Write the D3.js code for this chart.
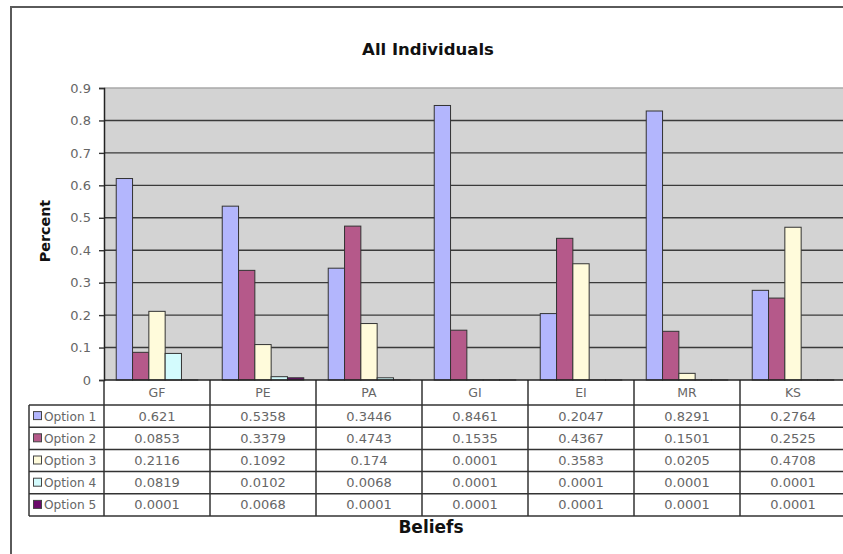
<!DOCTYPE html>
<html>
<head>
<meta charset="utf-8">
<script src="https://cdn.jsdelivr.net/npm/d3@7"></script>
<style>
  html, body { margin: 0; padding: 0; background: #fff; }
  svg { display: block; }
  text { font-family: "DejaVu Sans", Verdana, sans-serif; }
</style>
</head>
<body>
<svg id="chart" width="843" height="554"></svg>
<script>
// Beliefs on the x axis, one bar per option
const categories = ["GF", "PE", "PA", "GI", "EI", "MR", "KS"];
const seriesNames = ["Option 1", "Option 2", "Option 3", "Option 4", "Option 5"];
const option1 = [0.621, 0.5358, 0.3446, 0.8461, 0.2047, 0.8291, 0.2764];
const option2 = [0.0853, 0.3379, 0.4743, 0.1535, 0.4367, 0.1501, 0.2525];
const option3 = [0.2116, 0.1092, 0.174, 0.0001, 0.3583, 0.0205, 0.4708];
const option4 = [0.0819, 0.0102, 0.0068, 0.0001, 0.0001, 0.0001, 0.0001];
const option5 = [0.0001, 0.0068, 0.0001, 0.0001, 0.0001, 0.0001, 0.0001];
const yTicks = [0, 0.1, 0.2, 0.3, 0.4, 0.5, 0.6, 0.7, 0.8, 0.9];
const colors = ["#b3b6fd", "#b5598a", "#fffbdb", "#d3fbfd", "#6b0a6b"];

const seriesValues = [option1, option2, option3, option4, option5];
const svg = d3.select("#chart");

// layout
const plotLeft = 104, step = 106;
const plotRight = plotLeft + step * categories.length;
const plotTop = 88, plotBottom = 380;
const rowH = 22.2;
const headerBottom = 405;
const legendLeft = 29;

const x = d3.scaleBand().domain(categories).range([plotLeft, plotRight]).paddingInner(0).paddingOuter(0);
const barW = step / 6.5;
const xs = d3.scaleBand().domain(seriesNames).range([0.75 * barW, 0.75 * barW + 5 * barW]);
const y = d3.scaleLinear().domain([0, 0.9]).range([plotBottom, plotTop]);

// outer frame
svg.append("path")
  .attr("d", `M11,554 V7 H843`)
  .attr("fill", "none").attr("stroke", "#5a5a5a").attr("stroke-width", 2);

// title
svg.append("text").attr("x", 428).attr("y", 55)
  .attr("text-anchor", "middle").attr("font-size", 16.5).attr("font-weight", "bold")
  .attr("fill", "#111").text("All Individuals");

// plot background
svg.append("rect").attr("x", plotLeft).attr("y", plotTop)
  .attr("width", plotRight - plotLeft).attr("height", plotBottom - plotTop)
  .attr("fill", "#d3d3d3");
svg.append("line").attr("x1", plotLeft).attr("x2", plotRight)
  .attr("y1", plotTop).attr("y2", plotTop).attr("stroke", "#a8a8a8").attr("stroke-width", 1.5);

// gridlines
svg.append("g").selectAll("line").data(yTicks.filter(t => t > 0 && t < 0.9)).join("line")
  .attr("x1", plotLeft).attr("x2", plotRight)
  .attr("y1", d => y(d)).attr("y2", d => y(d))
  .attr("stroke", "#3a3a3a").attr("stroke-width", 1.4);

// y axis
const yAxis = d3.axisLeft(y).tickValues(yTicks).tickSize(5).tickPadding(8)
  .tickFormat(d => d === 0 ? "0" : d3.format(".1f")(d));
const gy = svg.append("g").attr("transform", `translate(${plotLeft},0)`).call(yAxis);
gy.select(".domain").attr("stroke", "#222").attr("stroke-width", 1.5);
gy.selectAll(".tick line").attr("stroke", "#333").attr("stroke-width", 1.4);
gy.selectAll(".tick text").attr("font-size", 13).attr("fill", "#666")
  .attr("font-family", "DejaVu Sans, Verdana, sans-serif");

// bars
const groups = svg.append("g").selectAll("g").data(categories).join("g")
  .attr("transform", d => `translate(${x(d)},0)`);
groups.selectAll("rect")
  .data((c, i) => seriesNames.map((s, k) => ({ s, k, v: seriesValues[k][i] })))
  .join("rect")
  .attr("x", d => xs(d.s))
  .attr("width", xs.bandwidth())
  .attr("y", d => y(d.v))
  .attr("height", d => y(0) - y(d.v))
  .attr("fill", d => colors[d.k])
  .attr("stroke", "#333").attr("stroke-width", 1);

// data table
const table = svg.append("g");
const tableBottom = headerBottom + rowH * seriesNames.length;

// white table background
table.append("rect").attr("x", legendLeft).attr("y", headerBottom)
  .attr("width", plotRight - legendLeft).attr("height", tableBottom - headerBottom).attr("fill", "#fff");

// horizontal rules
const hLines = [headerBottom].concat(seriesNames.map((s, i) => headerBottom + rowH * (i + 1)));
table.selectAll("line.h").data(hLines).join("line").attr("class", "h")
  .attr("x1", legendLeft).attr("x2", plotRight)
  .attr("y1", d => d).attr("y2", d => d)
  .attr("stroke", "#333").attr("stroke-width", 1.5);

// vertical rules
table.append("line").attr("x1", legendLeft).attr("x2", legendLeft)
  .attr("y1", headerBottom).attr("y2", tableBottom)
  .attr("stroke", "#333").attr("stroke-width", 1.5);
const vEdges = categories.map(c => x(c)).concat([plotRight]);
table.selectAll("line.v").data(vEdges).join("line").attr("class", "v")
  .attr("x1", d => d).attr("x2", d => d)
  .attr("y1", plotBottom).attr("y2", tableBottom)
  .attr("stroke", "#333").attr("stroke-width", 1.5);

// x axis line on top of the table
svg.append("line").attr("x1", plotLeft).attr("x2", plotRight)
  .attr("y1", plotBottom).attr("y2", plotBottom)
  .attr("stroke", "#222").attr("stroke-width", 1.5);

// category headers
table.selectAll("text.cat").data(categories).join("text").attr("class", "cat")
  .attr("x", d => x(d) + x.bandwidth() / 2).attr("y", plotBottom + 17)
  .attr("text-anchor", "middle").attr("font-size", 12.5).attr("fill", "#666").text(d => d);

// legend keys + labels
const legendRows = table.selectAll("g.leg").data(seriesNames).join("g").attr("class", "leg")
  .attr("transform", (d, i) => `translate(0,${headerBottom + rowH * i})`);
legendRows.append("rect")
  .attr("x", 33.5).attr("y", rowH / 2 - 4.5).attr("width", 8).attr("height", 8)
  .attr("fill", (d, i) => colors[i]).attr("stroke", "#444").attr("stroke-width", 1);
legendRows.append("text").attr("x", 44).attr("y", rowH / 2 + 4.5)
  .attr("font-size", 12.2).attr("fill", "#666").text(d => d);

// value cells
const fmt = v => String(v);
legendRows.each(function (s, k) {
  d3.select(this).selectAll("text.val").data(seriesValues[k]).join("text").attr("class", "val")
    .attr("x", (v, i) => x(categories[i]) + x.bandwidth() / 2)
    .attr("y", rowH / 2 + 4.5)
    .attr("text-anchor", "middle").attr("font-size", 13).attr("fill", "#666")
    .text(v => fmt(v));
});

// axis titles
svg.append("text").attr("transform", `translate(50,231) rotate(-90)`)
  .attr("text-anchor", "middle").attr("font-size", 14.3).attr("font-weight", "bold")
  .attr("fill", "#111").text("Percent");
svg.append("text").attr("x", 431).attr("y", 533)
  .attr("text-anchor", "middle").attr("font-size", 17).attr("font-weight", "bold")
  .attr("fill", "#111").text("Beliefs");
</script>
</body>
</html>
